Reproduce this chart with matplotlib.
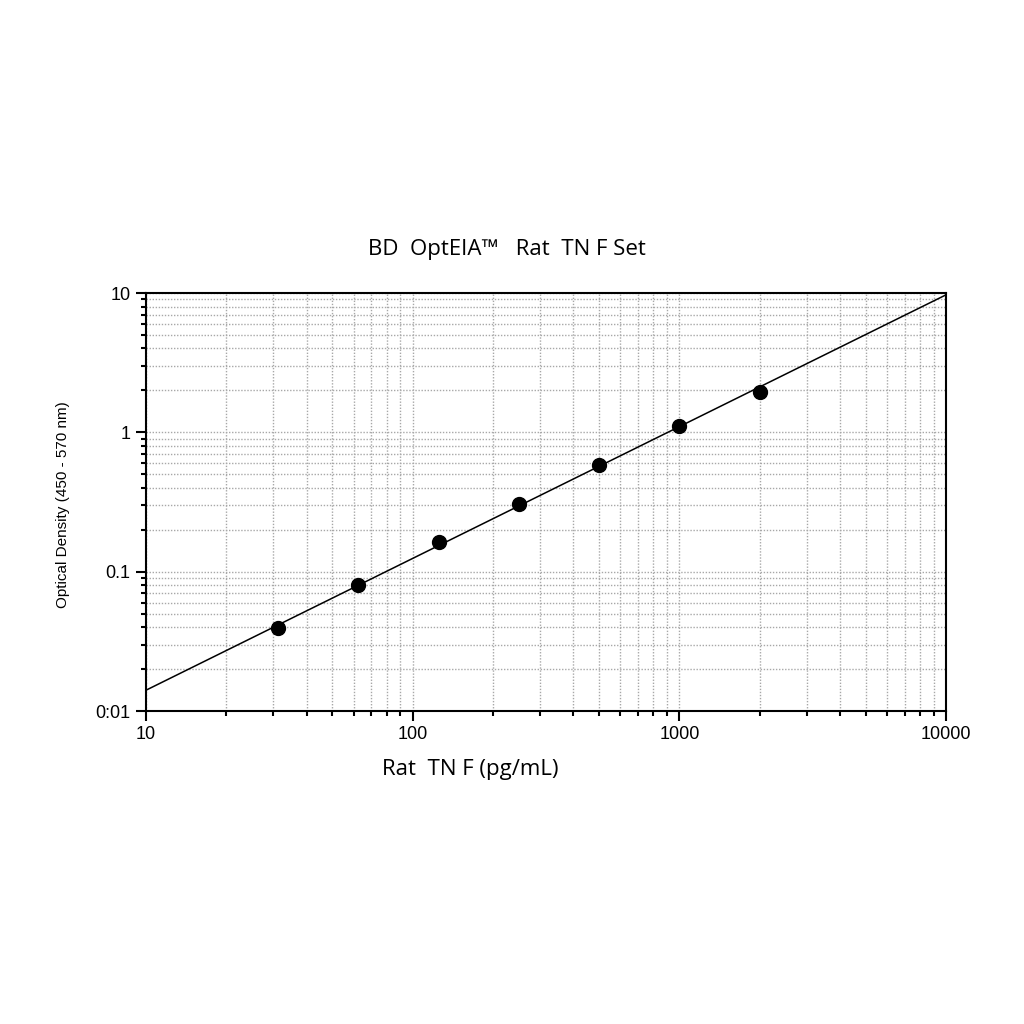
import matplotlib
matplotlib.use("Agg")
import matplotlib.pyplot as plt
from matplotlib.ticker import LogLocator, FixedLocator, FixedFormatter, NullFormatter

# Data
concentration = [31.25, 62.5, 125, 250, 500, 1000, 2000]
optical_density = [0.0394, 0.080, 0.163, 0.306, 0.582, 1.11, 1.95]
fit_x = [10, 10000]
fit_y = [0.0141, 9.7]
x_ticks = [10, 100, 1000, 10000]
x_tick_labels = ["10", "100", "1000", "10000"]
y_ticks = [0.01, 0.1, 1, 10]
y_tick_labels = ["0:01", "0.1", "1", "10"]

fig = plt.figure(figsize=(10.24, 10.24), dpi=100)
ax = fig.add_axes([146/1024, 1-711/1024, 800/1024, 418/1024])

ax.set_xscale("log")
ax.set_yscale("log")
ax.set_xlim(10, 10000)
ax.set_ylim(0.01, 10)

grid_kw = dict(color="#a8a8a8", linestyle=(0, (1, 1.2)), linewidth=1.0)
ax.grid(True, which="both", axis="both", **grid_kw)
ax.set_axisbelow(True)

ax.plot(fit_x, fit_y, color="black", linewidth=1.1, zorder=3)
ax.plot(concentration, optical_density, "o", color="black", markersize=10, zorder=4)

ax.xaxis.set_major_locator(FixedLocator(x_ticks))
ax.xaxis.set_major_formatter(FixedFormatter(x_tick_labels))
ax.yaxis.set_major_locator(FixedLocator(y_ticks))
ax.yaxis.set_major_formatter(FixedFormatter(y_tick_labels))
ax.xaxis.set_minor_locator(LogLocator(base=10, subs=range(2, 10), numticks=20))
ax.yaxis.set_minor_locator(LogLocator(base=10, subs=range(2, 10), numticks=20))
ax.xaxis.set_minor_formatter(NullFormatter())
ax.yaxis.set_minor_formatter(NullFormatter())

ax.tick_params(which="major", direction="out", length=7, width=1.5, color="black",
               labelsize=13, pad=4)
ax.tick_params(which="minor", direction="out", length=3.5, width=1.5, color="black")
ax.tick_params(top=False, right=False, which="both")
for lab in ax.get_xticklabels() + ax.get_yticklabels():
    lab.set_fontfamily("Liberation Sans")

for s in ax.spines.values():
    s.set_linewidth(1.5)
    s.set_color("black")

fig.text(507/1024, 1-250/1024, "BD  OptEIA\u2122   Rat  TN F Set", ha="center", va="center",
         fontsize=16, family=["Open Sans", "DejaVu Sans"])
fig.text(470/1024, 1-770/1024, "Rat  TN F (pg/mL)", ha="center", va="center",
         fontsize=16, family=["Open Sans", "DejaVu Sans"])
fig.text(63/1024, 1-505/1024, "Optical Density (450 - 570 nm)", ha="center", va="center",
         rotation=90, fontsize=11, family=["Liberation Sans", "DejaVu Sans"])

fig.savefig("out.png", dpi=100, facecolor="white")
